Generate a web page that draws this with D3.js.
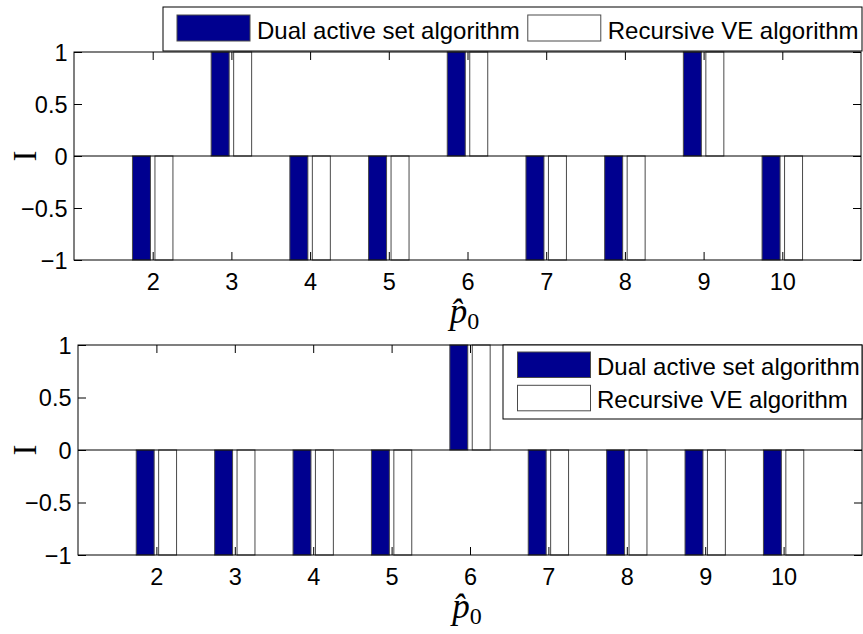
<!DOCTYPE html>
<html>
<head>
<meta charset="utf-8">
<script src="https://cdn.jsdelivr.net/npm/d3@7/dist/d3.min.js"></script>
<style>
  html, body { margin: 0; padding: 0; background: #fff; }
  svg { display: block; }
  text { font-family: "Liberation Sans", Arial, Helvetica, sans-serif; fill: #000; }
</style>
</head>
<body>
<svg id="chart" width="863" height="634"></svg>
<script>
// Sign indicator I for each value of p0, for both algorithms
const categories = [2, 3, 4, 5, 6, 7, 8, 9, 10];
const dualTop = [-1, 1, -1, -1, 1, -1, -1, 1, -1];
const recursiveTop = [-1, 1, -1, -1, 1, -1, -1, 1, -1];
const dualBottom = [-1, -1, -1, -1, 1, -1, -1, -1, -1];
const recursiveBottom = [-1, -1, -1, -1, 1, -1, -1, -1, -1];
const seriesNames = ["Dual active set algorithm", "Recursive VE algorithm"];
const yTickValues = [-1, -0.5, 0, 0.5, 1];
const yTickLabels = ["\u22121", "\u22120.5", "0", "0.5", "1"];
const xDomain = [1, 11];

const seriesColors = ["#00008f", "#ffffff"];
// grouped-bar geometry for two series
const groupWidth = 2 / 3.5;
const barWidth = groupWidth / 2 * 0.8;
const offsets = [-groupWidth / 4, groupWidth / 4];

const svg = d3.select("#chart");
const tickFont = 23.5;
const legendFont = 24;
const tickLen = 8;

const panels = [
  { left: 74, right: 861, top: 52, bottom: 260, series: [dualTop, recursiveTop],
    legend: "row", labelY: 323 },
  { left: 78, right: 862, top: 345, bottom: 555, series: [dualBottom, recursiveBottom],
    legend: "column", labelY: 618 }
];

panels.forEach(p => {
  const g = svg.append("g");
  const x = d3.scaleLinear().domain(xDomain).range([p.left, p.right]);
  const y = d3.scaleLinear().domain([-1, 1]).range([p.bottom, p.top]);

  // bars
  p.series.forEach((vals, si) => {
    g.selectAll(null)
      .data(categories.map((c, i) => ({ c, v: vals[i] })))
      .enter().append("rect")
      .attr("x", d => x(d.c + offsets[si] - barWidth / 2))
      .attr("width", x(xDomain[0] + barWidth) - x(xDomain[0]))
      .attr("y", d => y(Math.max(0, d.v)))
      .attr("height", d => Math.abs(y(d.v) - y(0)))
      .attr("fill", seriesColors[si])
      .attr("stroke", "#4a4a4a")
      .attr("stroke-width", 1);
  });

  // baseline at zero
  g.append("line")
    .attr("x1", p.left).attr("x2", p.right)
    .attr("y1", y(0)).attr("y2", y(0))
    .attr("stroke", "#000").attr("stroke-width", 1);

  // axes with inward ticks on all sides
  const xb = g.append("g").attr("transform", `translate(0,${p.bottom})`)
    .call(d3.axisBottom(x).tickValues(categories).tickSize(-tickLen).tickPadding(0));
  xb.selectAll("text").attr("font-size", tickFont).attr("dy", null).attr("y", 30)
    .style("font-family", "Liberation Sans, Arial, sans-serif");
  const xt = g.append("g").attr("transform", `translate(0,${p.top})`)
    .call(d3.axisTop(x).tickValues(categories).tickSize(-tickLen).tickFormat(""));
  const yl = g.append("g").attr("transform", `translate(${p.left},0)`)
    .call(d3.axisLeft(y).tickValues(yTickValues).tickSize(-tickLen).tickPadding(6)
      .tickFormat((d, i) => yTickLabels[i]));
  yl.selectAll("text").attr("font-size", tickFont).attr("x", -6.5).attr("dy", "0.36em")
    .style("font-family", "Liberation Sans, Arial, sans-serif");
  const yr = g.append("g").attr("transform", `translate(${p.right},0)`)
    .call(d3.axisRight(y).tickValues(yTickValues).tickSize(-tickLen).tickFormat(""));
  [xb, xt, yl, yr].forEach(a => {
    a.select(".domain").remove();
    a.selectAll(".tick line").attr("stroke", "#000");
  });

  // axes box
  g.append("rect")
    .attr("x", p.left).attr("y", p.top)
    .attr("width", p.right - p.left).attr("height", p.bottom - p.top)
    .attr("fill", "none").attr("stroke", "#000").attr("stroke-width", 1);

  // axis labels
  const xl = g.append("text")
    .attr("x", (p.left + p.right) / 2 - 3).attr("y", p.labelY)
    .attr("text-anchor", "middle")
    .style("font-family", "Liberation Serif, Times New Roman, serif");
  xl.append("tspan").attr("font-size", 35).attr("font-style", "italic").text("p\u0302");
  xl.append("tspan").attr("font-size", 24).attr("dy", 6).text("0");

  g.append("text")
    .attr("transform", `translate(36,${(p.top + p.bottom) / 2}) rotate(-90)`)
    .attr("text-anchor", "middle")
    .attr("font-size", 33)
    .style("font-family", "Liberation Serif, Times New Roman, serif")
    .text("I");

  // legend
  const lg = g.append("g");
  if (p.legend === "row") {
    lg.append("rect")
      .attr("x", 163).attr("y", 7).attr("width", 862 - 163).attr("height", 44)
      .attr("fill", "#fff").attr("stroke", "#000").attr("stroke-width", 1);
    let cx = 177;
    seriesNames.forEach((name, si) => {
      lg.append("rect").attr("x", cx).attr("y", 15).attr("width", 73).attr("height", 26)
        .attr("fill", seriesColors[si]).attr("stroke", "#4a4a4a");
      const t = lg.append("text").attr("x", cx + 80).attr("y", 38.5)
        .attr("font-size", legendFont).text(name);
      cx = cx + 80 + t.node().getComputedTextLength() + 8;
    });
  } else {
    lg.append("rect")
      .attr("x", 503).attr("y", p.top).attr("width", 862 - 503).attr("height", 74)
      .attr("fill", "#fff").attr("stroke", "#000").attr("stroke-width", 1);
    seriesNames.forEach((name, si) => {
      const ry = 352 + si * 33.3;
      lg.append("rect").attr("x", 517.5).attr("y", ry).attr("width", 73).attr("height", 25.5)
        .attr("fill", seriesColors[si]).attr("stroke", "#4a4a4a");
      lg.append("text").attr("x", 597).attr("y", ry + 23)
        .attr("font-size", legendFont).text(name);
    });
  }
});
</script>
</body>
</html>
